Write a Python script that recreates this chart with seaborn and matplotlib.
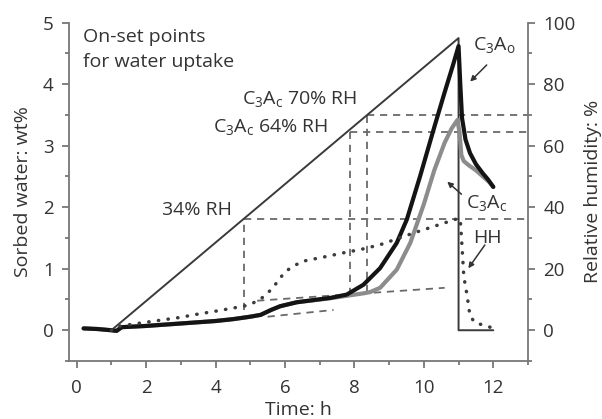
import matplotlib
matplotlib.use("Agg")
import matplotlib.pyplot as plt
import seaborn as sns
import numpy as np

# ---------------- data ----------------
# C3A_o (black) sorbed water, wt%
t_c3ao = [0.2, 0.6, 1.0, 1.15, 1.3, 2.0, 3.0, 4.0, 4.5, 5.0, 5.3, 5.6, 5.86, 6.34,
          7.3, 7.78, 8.26, 8.74, 9.22, 9.51, 9.89, 10.3, 10.6, 10.85, 11.0,
          11.05, 11.1, 11.2, 11.33, 11.5, 11.7, 11.85, 12.0]
w_c3ao = [0.03, 0.02, 0.0, -0.01, 0.05, 0.07, 0.11, 0.15, 0.18, 0.22, 0.25, 0.33, 0.39, 0.455,
          0.525, 0.58, 0.74, 1.01, 1.42, 1.8, 2.5, 3.3, 3.87, 4.33, 4.62,
          4.0, 3.45, 3.1, 2.88, 2.7, 2.55, 2.45, 2.33]

# C3A_c (grey) sorbed water, wt%
t_c3ac = [0.2, 0.6, 1.0, 1.15, 1.3, 2.0, 3.0, 4.0, 4.5, 5.0, 5.3, 5.6, 5.86, 6.34,
          7.3, 7.78, 8.26, 8.45, 8.74, 9.22, 9.61, 10.0, 10.3, 10.6, 10.8, 10.97,
          11.03, 11.08, 11.15, 11.3, 11.5, 11.7, 11.9, 12.0]
w_c3ac = [0.03, 0.02, 0.0, -0.01, 0.05, 0.07, 0.11, 0.15, 0.18, 0.22, 0.25, 0.33, 0.39, 0.455,
          0.52, 0.56, 0.6, 0.62, 0.69, 0.985, 1.42, 2.05, 2.6, 3.05, 3.28, 3.42,
          3.2, 2.85, 2.75, 2.68, 2.6, 2.5, 2.4, 2.33]

# HH (dotted) sorbed water, wt%
t_hh = [1.0, 1.15, 2.0, 3.0, 3.36, 4.0, 4.8, 5.0, 5.28, 5.5, 5.76, 6.0, 6.24, 6.5,
        7.2, 7.78, 8.16, 8.74, 9.7, 10.57, 11.0, 11.05, 11.1, 11.15, 11.25, 11.33,
        11.48, 11.81, 12.0]
w_hh = [0.0, 0.06, 0.13, 0.21, 0.25, 0.31, 0.39, 0.42, 0.5, 0.6, 0.77, 0.95, 1.04, 1.12,
        1.2, 1.27, 1.31, 1.39, 1.58, 1.74, 1.82, 1.8, 1.36, 0.88, 0.55, 0.23,
        0.12, 0.07, 0.03]

# Relative humidity programme, %
t_rh = [1.0, 11.0, 11.0, 12.0]
rh = [0.0, 95.0, 0.0, 0.0]

# On-set points: time, sorbed water at the curve, RH level
onset_t = [4.82, 7.86, 8.36]
onset_w = [0.33, 0.58, 0.62]
onset_rh = [36.2, 64.6, 70.0]

# baseline tangents (time pairs, wt% pairs)
tan1_t = [5.5, 7.4]
tan1_w = [0.22, 0.33]
tan2_t = [5.2, 10.6]
tan2_w = [0.48, 0.69]

x_ticks = [0, 2, 4, 6, 8, 10, 12]
yl_ticks = [0, 1, 2, 3, 4, 5]
yr_ticks = [0, 20, 40, 60, 80, 100]

# ---------------- style ----------------
sns.set_theme(style="ticks")
plt.rcParams["font.family"] = ["Open Sans", "DejaVu Sans"]
plt.rcParams["mathtext.fontset"] = "custom"
plt.rcParams["mathtext.rm"] = "Open Sans"
plt.rcParams["mathtext.it"] = "Open Sans"

TXT = "#333333"
SPN = "#777777"
FS_T = 13.5
FS = 14

W, H = 602, 419
fig = plt.figure(figsize=(W / 100, H / 100), dpi=100)
L, R, B, T = 69, 528, 361, 22.7
ax = fig.add_axes([L / W, 1 - B / H, (R - L) / W, (B - T) / H])
ax2 = ax.twinx()

XL = (-0.22, 13.0)
ax.set_xlim(*XL)
ax.set_ylim(-0.5, 5.0)
ax2.set_ylim(-10, 100)

dash_kw = dict(color="#6a6a6a", lw=1.3, dashes=(4, 3.2))

# guide lines (on RH axis)
for t0, w0, r0 in zip(onset_t, onset_w, onset_rh):
    ax2.plot([t0, t0], [w0 * 20, r0], **dash_kw)
    ax2.plot([t0, XL[1]], [r0, r0], **dash_kw)
ax.plot(tan1_t, tan1_w, **dash_kw)
ax.plot(tan2_t, tan2_w, **dash_kw)

# RH programme
sns.lineplot(x=t_rh, y=rh, ax=ax2, sort=False, estimator=None, color="#3a3a3a", lw=1.4)

# sorption curves
sns.lineplot(x=t_c3ac, y=w_c3ac, ax=ax, sort=False, estimator=None, color="#8c8c8c", lw=3.0)
sns.lineplot(x=t_c3ao, y=w_c3ao, ax=ax, sort=False, estimator=None, color="#141414", lw=3.0)
ax.plot(t_hh, w_hh, color="#3c3c3c", lw=2.5, linestyle=(0, (0.1, 2.7)),
        dash_capstyle="round")

ax.set_zorder(ax2.get_zorder() + 1)
ax.patch.set_visible(False)

# axes cosmetics
for a in (ax, ax2):
    a.spines["top"].set_visible(False)
    for s in ("left", "right", "bottom"):
        a.spines[s].set_color(SPN)
        a.spines[s].set_linewidth(1.3)
ax.spines["right"].set_visible(False)
ax2.spines["left"].set_visible(False)
ax2.spines["bottom"].set_visible(False)

ax.set_xticks(x_ticks)
ax.set_xticks([1, 3, 5, 7, 9, 11, 13], minor=True)
ax.set_yticks(yl_ticks)
ax.set_yticks(np.arange(-0.5, 5.01, 0.5), minor=True)
ax2.set_yticks(yr_ticks)
ax2.set_yticks(np.arange(-10, 101, 10), minor=True)
for a in (ax, ax2):
    a.tick_params(which="major", length=5, width=1.3, color=SPN, labelsize=FS_T,
                  labelcolor=TXT, pad=6)
    a.tick_params(which="minor", length=3, width=1.3, color=SPN)
ax.tick_params(axis="x", which="major", pad=8)

ax.set_xlabel("Time: h", fontsize=FS, color=TXT, labelpad=3)
ax.set_ylabel("Sorbed water: wt%", fontsize=FS, color=TXT, labelpad=8)
ax2.set_ylabel("Relative humidity: %", fontsize=FS, color=TXT, labelpad=6)
ax.grid(False)
ax2.grid(False)

# annotations
tk = dict(transform=ax.transAxes, fontsize=FS, color=TXT, va="baseline", ha="left")
ax.text(0.030, 0.942, "On-set points", **tk)
ax.text(0.030, 0.870, "for water uptake", **tk)
ax.text(0.376, 0.760, r"C$_3$A$_c$ 70% RH", **tk)
ax.text(0.314, 0.678, r"C$_3$A$_c$ 64% RH", **tk)
ax.text(0.202, 0.4316, "34% RH", **tk)
ax.text(0.881, 0.919, r"C$_3$A$_o$", **tk)
ax.text(0.866, 0.451, r"C$_3$A$_c$", **tk)
ax.text(0.880, 0.348, "HH", **tk)

ap = dict(arrowstyle="-|>", color="#333333", lw=1.1, mutation_scale=8, shrinkA=0, shrinkB=0)
for (x0, y0), (x1, y1) in [((0.910, 0.875), (0.874, 0.826)),
                           ((0.855, 0.493), (0.824, 0.530)),
                           ((0.906, 0.343), (0.870, 0.274))]:
    ax.annotate("", xy=(x1, y1), xytext=(x0, y0), xycoords="axes fraction",
                textcoords="axes fraction", arrowprops=ap)

fig.savefig("out.png", dpi=100, facecolor="white")
